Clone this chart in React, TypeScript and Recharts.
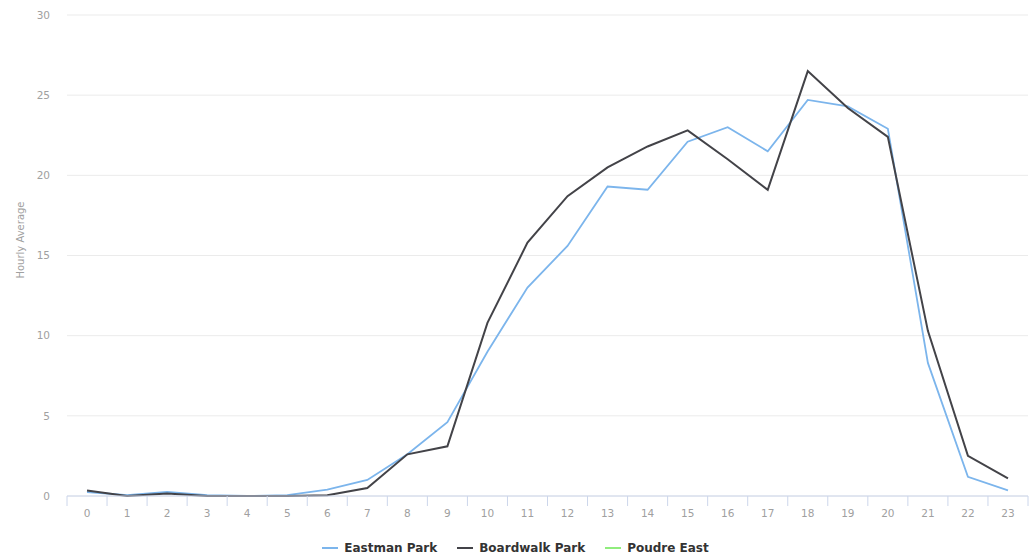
import React from 'react';
import { LineChart, Line, XAxis, YAxis, CartesianGrid } from 'recharts';

const hours = [0, 1, 2, 3, 4, 5, 6, 7, 8, 9, 10, 11, 12, 13, 14, 15, 16, 17, 18, 19, 20, 21, 22, 23];
const eastmanPark = [0.25, 0.05, 0.25, 0.05, 0, 0.05, 0.4, 1.0, 2.6, 4.6, 9.0, 13.0, 15.6, 19.3, 19.1, 22.1, 23.0, 21.5, 24.7, 24.3, 22.9, 8.3, 1.2, 0.35];
const boardwalkPark = [0.35, 0, 0.15, 0, 0, 0, 0.05, 0.5, 2.6, 3.1, 10.8, 15.8, 18.7, 20.5, 21.8, 22.8, 21.0, 19.1, 26.5, 24.2, 22.4, 10.3, 2.5, 1.1];
const poudreEast = [null, null, null, null, null, null, null, null, null, null, null, null, null, null, null, null, null, null, null, null, null, null, null, null];
const yTicks = [0, 5, 10, 15, 20, 25, 30];

const seriesInfo = [
  { key: 'eastman', name: 'Eastman Park', color: '#7cb5ec' },
  { key: 'boardwalk', name: 'Boardwalk Park', color: '#434348' },
  { key: 'poudre', name: 'Poudre East', color: '#90ed7d' },
];

const data = hours.map((h, i) => ({
  hour: h,
  eastman: eastmanPark[i],
  boardwalk: boardwalkPark[i],
  poudre: poudreEast[i],
}));

const W = 1031;
const H = 556;
const MARGIN = { top: 15, right: 3, left: 0, bottom: 0 };
const Y_AXIS_W = 67;
const X_AXIS_H = 60;
const PLOT_W = W - MARGIN.left - MARGIN.right - Y_AXIS_W;
const HALF = PLOT_W / hours.length / 2;
const FONT = '"DejaVu Sans", "Open Sans", sans-serif';

const XTick = (props: any) => {
  const { x, y, payload, index } = props;
  return (
    <g>
      <line x1={x - HALF} x2={x - HALF} y1={y} y2={y + 10} stroke="#ccd6eb" strokeWidth={1} />
      {index === hours.length - 1 && (
        <line x1={x + HALF} x2={x + HALF} y1={y} y2={y + 10} stroke="#ccd6eb" strokeWidth={1} />
      )}
      <text x={x} y={y + 17} textAnchor="middle" dominantBaseline="central" fill="#a0a0a0" fontSize={10.5} fontFamily={FONT}>
        {payload.value}
      </text>
    </g>
  );
};

const YLabel = () => (
  <text
    transform="translate(20,240) rotate(-90)"
    textAnchor="middle"
    dominantBaseline="central"
    fill="#a0a0a0"
    fontSize={10}
    fontFamily={FONT}
  >
    Hourly Average
  </text>
);

export default function App() {
  return (
    <div style={{ position: 'absolute', left: 0, top: 0, width: W, height: H, background: '#fff' }}>
      <LineChart width={W} height={H} data={data} margin={MARGIN}>
        <CartesianGrid vertical={false} stroke="#ebebeb" />
        <XAxis
          dataKey="hour"
          type="number"
          domain={[-0.5, 23.5]}
          ticks={hours}
          interval={0}
          height={X_AXIS_H}
          tickLine={false}
          tickSize={0}
          tickMargin={0}
          axisLine={{ stroke: '#ccd6eb' }}
          tick={<XTick />}
        />
        <YAxis
          domain={[0, 30]}
          ticks={yTicks}
          width={Y_AXIS_W}
          axisLine={false}
          tickLine={false}
          tickSize={0}
          tickMargin={17}
          tick={{ fill: '#a0a0a0', fontSize: 10.5, fontFamily: FONT }}
          label={{ content: <YLabel /> } as any}
        />
        <Line
          type="linear"
          dataKey="eastman"
          name="Eastman Park"
          stroke={seriesInfo[0].color}
          strokeWidth={1.8}
          dot={false}
          isAnimationActive={false}
        />
        <Line
          type="linear"
          dataKey="boardwalk"
          name="Boardwalk Park"
          stroke={seriesInfo[1].color}
          strokeWidth={2}
          dot={false}
          isAnimationActive={false}
        />
        <Line
          type="linear"
          dataKey="poudre"
          name="Poudre East"
          stroke={seriesInfo[2].color}
          strokeWidth={2}
          dot={false}
          isAnimationActive={false}
        />
      </LineChart>
      <div
        style={{
          position: 'absolute',
          left: 0,
          top: 539,
          width: W,
          height: 18,
          display: 'flex',
          justifyContent: 'center',
          alignItems: 'center',
          gap: 20,
          fontFamily: FONT,
          fontSize: 12,
          fontWeight: 700,
          color: '#333',
        }}
      >
        {seriesInfo.map((s) => (
          <div key={s.key} style={{ display: 'flex', alignItems: 'center' }}>
            <span style={{ display: 'inline-block', width: 16, height: 2, background: s.color, marginRight: 6 }} />
            <span>{s.name}</span>
          </div>
        ))}
      </div>
    </div>
  );
}
